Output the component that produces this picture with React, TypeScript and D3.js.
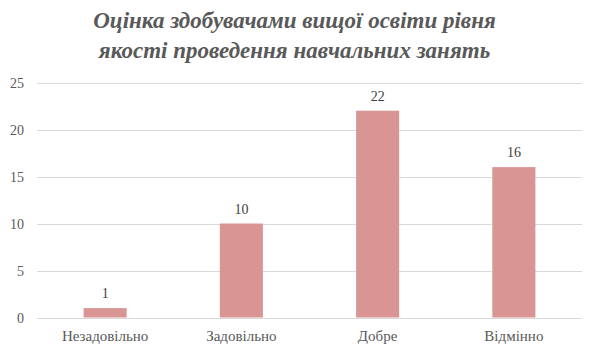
import { useEffect, useRef } from "react";
import * as d3 from "d3";

const CATEGORIES = ["Незадовільно", "Задовільно", "Добре", "Відмінно"];
const VALUES = [1, 10, 22, 16];
const Y_TICKS = [0, 5, 10, 15, 20, 25];
const TITLE_LINES = ["Оцінка здобувачами вищої освіти рівня", "якості проведення навчальних занять"];

const W = 589;
const H = 353;
const FONT = '"Liberation Serif", "DejaVu Serif", serif';

export default function App() {
  const svgRef = useRef<SVGSVGElement>(null);

  useEffect(() => {
    if (!svgRef.current) return;
    const svg = d3.select(svgRef.current);
    svg.selectAll("*").remove();

    const left = 37;
    const right = 582;
    const top = 82.5;
    const bottom = 317.5;

    const x = d3.scaleBand<string>()
      .domain(CATEGORIES)
      .range([left, right])
      .paddingInner(0.684)
      .paddingOuter(0.342);
    const y = d3.scaleLinear().domain([0, 25]).range([bottom, top]);

    // Title
    svg.append("g")
      .selectAll("text")
      .data(TITLE_LINES)
      .join("text")
      .attr("x", W / 2)
      .attr("y", (_, i) => 28 + i * 30)
      .attr("text-anchor", "middle")
      .attr("fill", "#595959")
      .style("font-family", FONT)
      .style("font-size", "23px")
      .style("font-weight", "bold")
      .style("font-style", "italic")
      .text((d) => d);

    // Gridlines
    svg.append("g")
      .selectAll("line")
      .data(Y_TICKS)
      .join("line")
      .attr("x1", left)
      .attr("x2", right)
      .attr("y1", (d) => Math.round(y(d)) + 0.5)
      .attr("y2", (d) => Math.round(y(d)) + 0.5)
      .attr("stroke", "#d9d9d9")
      .attr("stroke-width", 1);

    // Y labels
    svg.append("g")
      .selectAll("text")
      .data(Y_TICKS)
      .join("text")
      .attr("x", 24)
      .attr("y", (d) => y(d) + 5)
      .attr("text-anchor", "end")
      .attr("fill", "#595959")
      .style("font-family", FONT)
      .style("font-size", "14px")
      .text((d) => d);

    // Bars
    svg.append("g")
      .selectAll("rect")
      .data(VALUES)
      .join("rect")
      .attr("x", (_, i) => x(CATEGORIES[i])!)
      .attr("width", x.bandwidth())
      .attr("y", (d) => y(d))
      .attr("height", (d) => y(0) - y(d))
      .attr("fill", "#d99594");

    // Data labels
    svg.append("g")
      .selectAll("text")
      .data(VALUES)
      .join("text")
      .attr("x", (_, i) => x(CATEGORIES[i])! + x.bandwidth() / 2)
      .attr("y", (d) => y(d) - 10)
      .attr("text-anchor", "middle")
      .attr("fill", "#404040")
      .style("font-family", FONT)
      .style("font-size", "14px")
      .text((d) => d);

    // Category labels
    svg.append("g")
      .selectAll("text")
      .data(CATEGORIES)
      .join("text")
      .attr("x", (d) => x(d)! + x.bandwidth() / 2)
      .attr("y", 341)
      .attr("text-anchor", "middle")
      .attr("fill", "#595959")
      .style("font-family", FONT)
      .style("font-size", "15px")
      .text((d) => d);
  }, []);

  return (
    <svg
      ref={svgRef}
      width={W}
      height={H}
      style={{ position: "absolute", left: 0, top: 0, background: "#fff" }}
    />
  );
}
